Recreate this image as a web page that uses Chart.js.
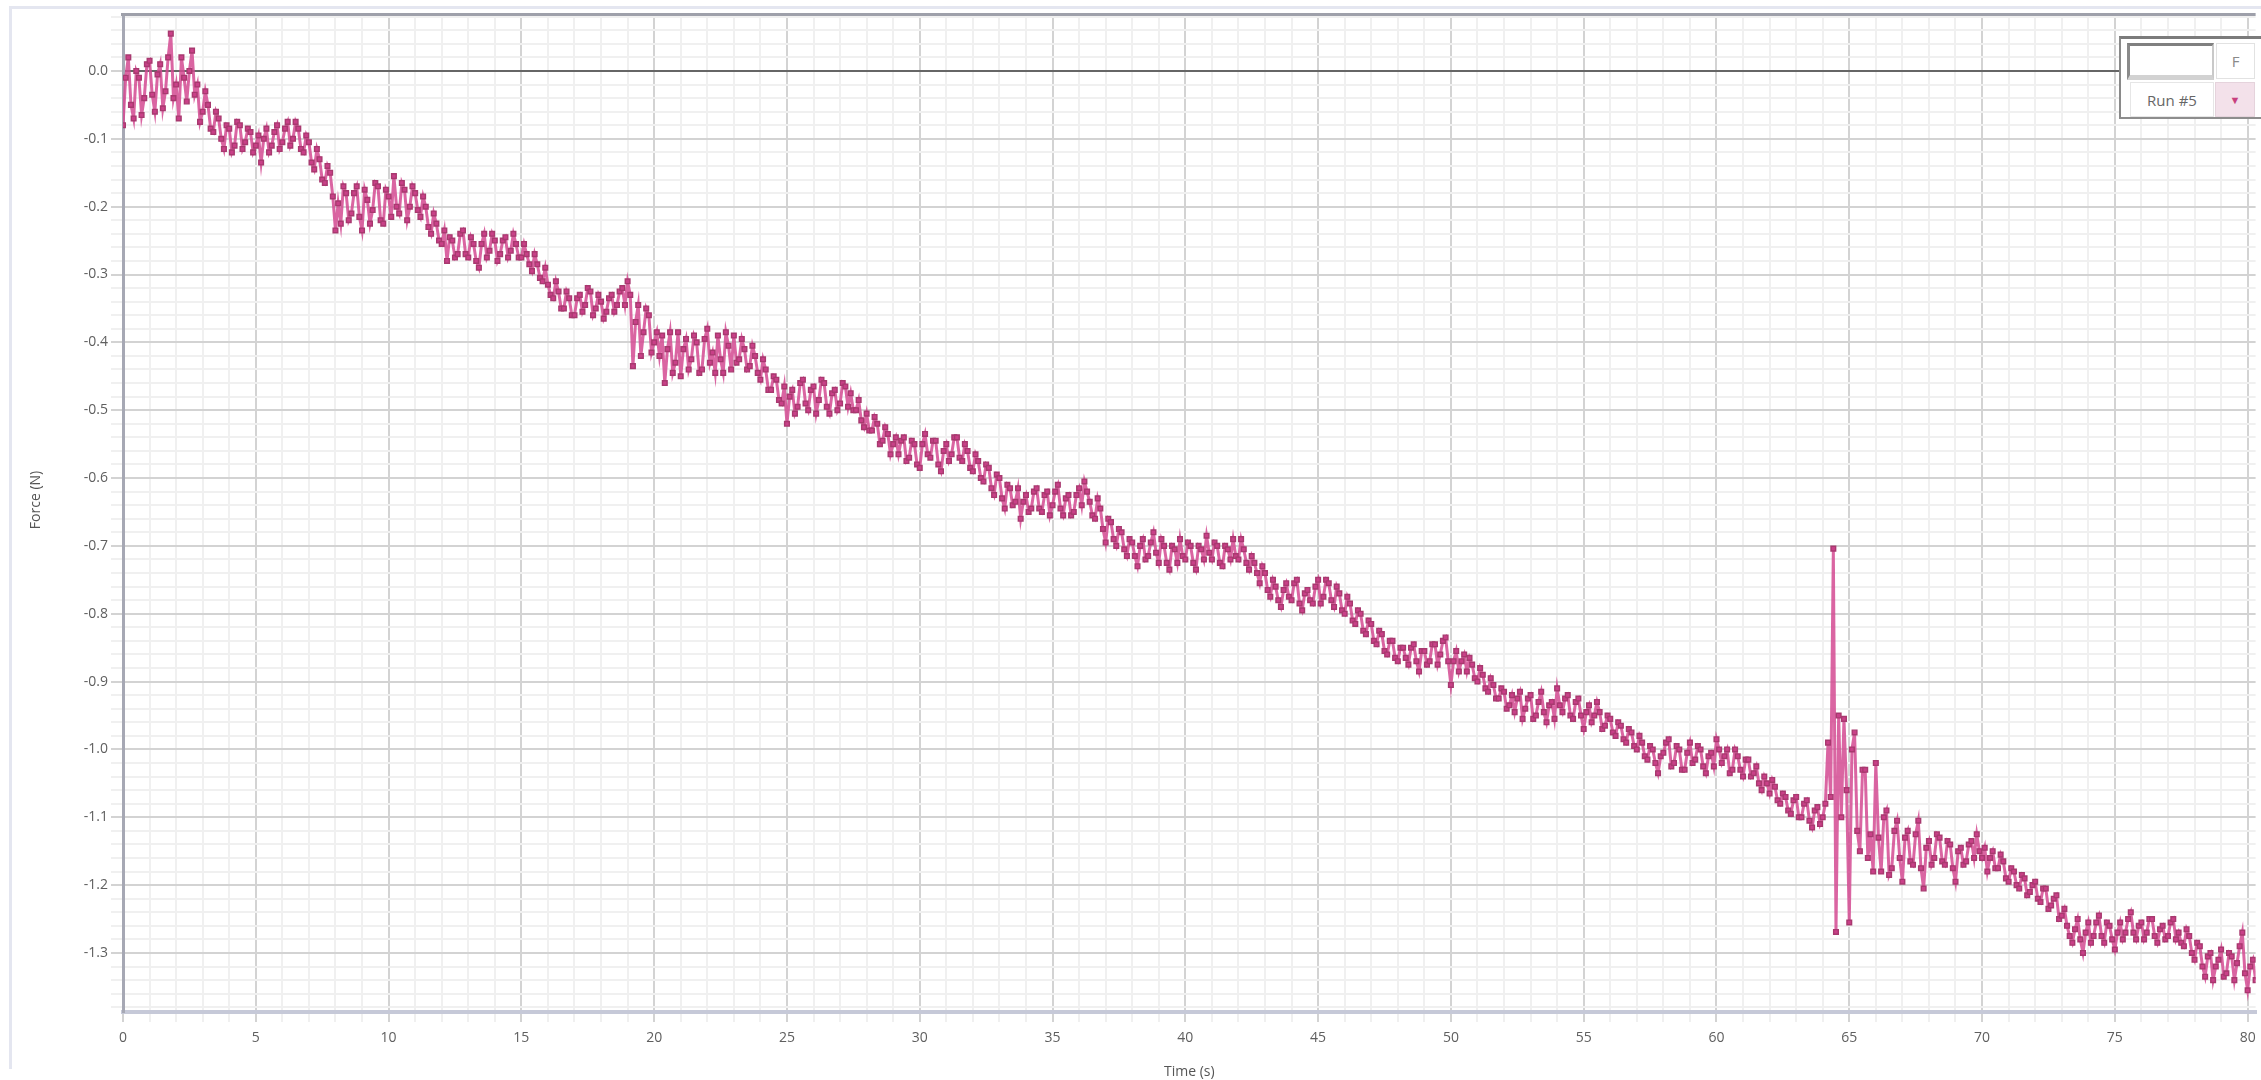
<!DOCTYPE html>
<html><head><meta charset="utf-8">
<script src="https://cdn.jsdelivr.net/npm/chart.js@4.4.1/dist/chart.umd.min.js"></script>
<style>
html,body{margin:0;padding:0;background:#fff;overflow:hidden}
#wrap{position:relative;width:2261px;height:1080px}
#c{display:block}
.lg{position:absolute;box-sizing:border-box;font-family:'Open Sans',sans-serif;font-size:15px;color:#666;display:flex;align-items:center;justify-content:center;background:#fff}
</style></head><body>
<div id="wrap">
<canvas id="c" width="2261" height="1080"></canvas>
<div class="lg" style="left:2119px;top:36px;width:142px;height:83px;border-top:3px solid #7b7b7b;border-left:2px solid #8a8a8a;border-bottom:2px solid #8d8d8d;"></div>
<div class="lg" style="left:2127px;top:43px;width:87px;height:37px;border-top:3px solid #808080;border-left:3px solid #8a8a8a;border-right:2px solid #c9c9c9;border-bottom:5px solid #d2d2d2;"></div>
<div class="lg" style="left:2216px;top:43px;width:39px;height:36px;border:1px solid #e2e2e2;color:#8a8a8a;">F</div>
<div class="lg" style="left:2130px;top:82px;width:84px;height:35px;border:1px solid #e6e6e6;">Run #5</div>
<div class="lg" style="left:2215px;top:82px;width:40px;height:35px;background:#f3e1ea;border:1px solid #e5d3dc;color:#c8407f;font-size:11px;">&#9660;</div>
</div>
<script>
// ---- data ----
const xTickLabels = ['0','5','10','15','20','25','30','35','40','45','50','55','60','65','70','75','80'];
const yTickLabels = ['0.0','-0.1','-0.2','-0.3','-0.4','-0.5','-0.6','-0.7','-0.8','-0.9','-1.0','-1.1','-1.2','-1.3'];
const xTitle = 'Time (s)';
const yTitle = 'Force (N)';
const seriesName = 'Run #5';
const samplePeriod = 0.1; // s between samples
const forceValues = [
-0.08,-0.01,0.02,-0.05,-0.07,0.0,-0.01,-0.065,-0.04,0.01,0.015,-0.035,-0.06,-0.005,0.01,-0.055,-0.03,0.02,0.055,-0.04,-0.02,-0.07,0.02,-0.01,-0.045,0.0,0.03,-0.035,
-0.02,-0.075,-0.06,-0.03,-0.05,-0.085,-0.09,-0.06,-0.07,-0.1,-0.115,-0.08,
-0.085,-0.12,-0.11,-0.075,-0.08,-0.115,-0.105,-0.085,-0.09,-0.12,-0.11,-0.095,-0.135,-0.1,-0.085,-0.12,-0.11,-0.09,-0.08,-0.115,-0.105,-0.085,-0.075,-0.11,-0.10,-0.075,-0.085,-0.115,
-0.12,-0.095,-0.105,-0.135,-0.145,-0.115,-0.13,-0.16,-0.165,-0.14,-0.15,-0.185,-0.235,-0.195,
-0.225,-0.17,-0.18,-0.22,-0.21,-0.18,-0.17,-0.215,-0.235,-0.175,-0.19,-0.225,-0.205,-0.165,-0.17,-0.22,-0.225,-0.175,-0.185,-0.215,-0.155,-0.2,-0.21,-0.165,-0.175,-0.22,-0.2,-0.17,-0.18,-0.205,
-0.215,-0.185,-0.2,-0.23,-0.24,-0.21,-0.225,-0.25,-0.255,-0.235,
-0.28,-0.245,-0.25,-0.275,-0.27,-0.24,-0.235,-0.27,-0.275,-0.245,-0.255,-0.28,-0.29,-0.255,-0.24,-0.275,-0.265,-0.24,-0.25,-0.28,-0.27,-0.25,-0.245,-0.275,-0.265,-0.24,-0.255,-0.275,-0.275,-0.255,
-0.27,-0.285,-0.295,-0.27,-0.285,-0.305,-0.31,-0.29,-0.315,-0.33,-0.335,-0.31,-0.325,-0.35,
-0.35,-0.325,-0.335,-0.36,-0.36,-0.335,-0.33,-0.355,-0.345,-0.32,-0.325,-0.36,-0.35,-0.33,-0.34,-0.365,-0.355,-0.335,-0.33,-0.355,-0.345,-0.325,-0.32,-0.345,-0.31,-0.33,
-0.435,-0.37,-0.345,-0.42,-0.385,-0.35,-0.36,-0.415,-0.40,-0.385,
-0.42,-0.39,-0.46,-0.41,-0.385,-0.445,-0.43,-0.385,-0.45,-0.41,-0.395,-0.44,-0.425,-0.39,-0.40,-0.445,-0.44,-0.395,-0.38,-0.43,-0.415,-0.445,-0.39,-0.425,-0.445,-0.385,-0.405,-0.44,-0.39,-0.43,-0.425,-0.395,-0.41,-0.44,-0.435,-0.405,
-0.42,-0.445,-0.455,-0.425,-0.44,-0.47,-0.47,-0.45,-0.455,-0.485,-0.49,-0.465,
-0.52,-0.48,-0.47,-0.505,-0.495,-0.46,-0.455,-0.49,-0.50,-0.47,-0.465,-0.505,-0.485,-0.455,-0.46,-0.495,-0.505,-0.475,-0.47,-0.50,-0.49,-0.46,-0.465,-0.495,-0.475,-0.5,
-0.50,-0.485,-0.515,-0.525,-0.505,-0.53,-0.53,-0.51,-0.52,-0.55,-0.545,-0.525,-0.535,-0.565,-0.55,-0.54,
-0.565,-0.545,-0.54,-0.575,-0.57,-0.545,-0.55,-0.58,-0.585,-0.55,-0.535,-0.565,-0.57,-0.545,-0.545,-0.58,-0.59,-0.56,-0.55,-0.575,-0.565,-0.54,-0.54,-0.57,-0.575,-0.55,-0.56,-0.585,
-0.59,-0.565,-0.575,-0.6,-0.605,-0.58,-0.585,-0.615,-0.625,-0.595,-0.60,-0.63,-0.645,-0.61,-0.615,-0.64,-0.635,-0.615,
-0.66,-0.635,-0.625,-0.65,-0.645,-0.62,-0.615,-0.645,-0.65,-0.625,-0.62,-0.655,-0.64,-0.62,-0.61,-0.645,-0.655,-0.63,-0.625,-0.655,-0.65,-0.625,-0.615,-0.64,-0.605,-0.62,-0.635,-0.655,
-0.66,-0.63,-0.645,-0.675,-0.695,-0.66,-0.665,-0.69,-0.70,-0.675,-0.68,-0.705,-0.715,-0.69,
-0.695,-0.715,-0.73,-0.7,-0.69,-0.72,-0.715,-0.695,-0.68,-0.71,-0.725,-0.69,-0.70,-0.725,-0.735,-0.7,-0.705,-0.725,-0.69,-0.715,-0.72,-0.695,-0.70,-0.725,-0.735,-0.7,-0.705,-0.72,-0.685,-0.71,-0.72,-0.695,-0.70,-0.725,-0.73,-0.7,-0.705,-0.72,-0.69,-0.715,-0.72,-0.69,-0.705,-0.725,-0.735,-0.715,
-0.725,-0.74,-0.755,-0.73,-0.74,-0.765,-0.775,-0.75,-0.76,-0.78,
-0.79,-0.765,-0.755,-0.775,-0.78,-0.755,-0.75,-0.785,-0.795,-0.77,-0.765,-0.78,-0.785,-0.76,-0.75,-0.785,-0.775,-0.75,-0.755,-0.78,-0.79,-0.76,-0.77,-0.795,
-0.80,-0.775,-0.785,-0.81,-0.815,-0.795,-0.80,-0.825,-0.83,-0.81,-0.815,-0.84,-0.845,-0.825,-0.83,-0.855,-0.86,-0.84,-0.84,-0.865,-0.87,-0.85,
-0.85,-0.865,-0.875,-0.85,-0.845,-0.87,-0.885,-0.855,-0.855,-0.875,-0.87,-0.845,-0.845,-0.875,-0.86,-0.84,-0.835,-0.87,-0.905,-0.87,-0.855,-0.885,-0.87,-0.86,
-0.885,-0.865,-0.875,-0.895,-0.90,-0.88,-0.89,-0.91,-0.915,-0.895,-0.905,-0.925,-0.925,-0.91,-0.915,-0.94,-0.935,-0.92,-0.945,-0.925,
-0.915,-0.955,-0.94,-0.925,-0.92,-0.955,-0.95,-0.93,-0.915,-0.945,-0.96,-0.935,-0.93,-0.955,-0.91,-0.935,-0.945,-0.925,-0.92,-0.95,-0.955,-0.93,-0.925,-0.95,-0.97,-0.945,-0.935,-0.96,-0.95,-0.93,
-0.945,-0.97,-0.965,-0.95,-0.955,-0.975,-0.98,-0.96,-0.965,-0.985,-0.99,-0.97,-0.975,-0.995,-1.0,-0.98,-0.99,-1.01,-1.015,-0.995,
-1.0,-1.02,-1.035,-1.01,-1.005,-0.99,-0.985,-1.025,-1.02,-0.995,-1.0,-1.03,-1.03,-1.005,-0.99,-1.02,-1.015,-0.995,-1.0,-1.025,-1.035,-1.01,-1.005,-1.025,-0.985,-1.0,-1.02,-1.01,-1.0,-1.035,-1.03,-1.0,-1.01,-1.03,-1.04,-1.015,-1.015,-1.04,
-1.035,-1.025,-1.05,-1.06,-1.04,-1.05,-1.065,-1.045,-1.055,-1.075,-1.08,-1.065,-1.07,-1.09,
-1.095,-1.075,-1.07,-1.1,-1.10,-1.08,-1.075,-1.105,-1.115,-1.09,-1.085,-1.11,-1.10,-1.08,
-0.99,-1.07,-0.704,-1.269,-0.95,-1.1,-0.955,-1.06,-1.255,-1.0,-0.975,-1.12,-1.15,-1.03,-1.03,-1.16,-1.125,-1.18,-1.02,-1.13,
-1.18,-1.1,-1.09,-1.185,-1.175,-1.12,-1.105,-1.16,-1.195,-1.13,-1.12,-1.165,-1.17,-1.125,-1.105,-1.175,-1.205,-1.145,-1.135,-1.17,
-1.16,-1.125,-1.13,-1.165,-1.17,-1.135,-1.14,-1.175,-1.195,-1.15,-1.145,-1.17,-1.165,-1.14,-1.135,-1.16,-1.125,-1.15,-1.16,-1.145,
-1.18,-1.16,-1.15,-1.175,-1.175,-1.155,-1.165,-1.19,-1.195,-1.175,-1.18,-1.2,-1.205,-1.185,-1.19,-1.215,-1.21,-1.2,-1.195,-1.22,-1.225,-1.205,-1.205,-1.235,-1.23,-1.22,-1.215,-1.25,-1.245,-1.235,
-1.26,-1.275,-1.285,-1.265,-1.25,-1.28,-1.30,-1.27,-1.255,-1.285,-1.275,-1.255,-1.245,-1.275,-1.285,-1.255,-1.26,-1.28,-1.295,-1.27,-1.255,-1.28,-1.27,-1.25,-1.24,-1.27,-1.28,-1.26,-1.255,-1.28,-1.27,-1.25,-1.25,-1.275,-1.285,-1.265,-1.26,-1.28,-1.275,-1.255,-1.25,-1.28,-1.27,-1.285,
-1.29,-1.265,-1.275,-1.3,-1.31,-1.285,-1.29,-1.32,-1.335,-1.305,-1.30,-1.34,-1.32,-1.31,-1.295,-1.335,-1.33,-1.3,-1.305,-1.34,-1.315,-1.29,-1.27,-1.33,-1.355,-1.32,-1.31,-1.34
];
const sampleTimes = forceValues.map((_, i) => +(i * samplePeriod).toFixed(1));

// ---- axis setup ----
const xMajor = xTickLabels.map(Number);
const yMajor = yTickLabels.map(Number);
const xAll = [];
for (let v = 0; v <= 80; v++) xAll.push(v);
const yAll = [];
for (let k = 4; k >= -69; k--) yAll.push(+(k * 0.02).toFixed(2));
const isMajorX = v => xMajor.some(m => Math.abs(m - v) < 1e-6);
const isMajorY = v => yMajor.some(m => Math.abs(m - v) < 1e-6);

const framePlugin = {
  id: 'frame',
  beforeDraw(chart) {
    const c = chart.ctx;
    c.save();
    c.fillStyle = '#fff';
    c.fillRect(0, 0, chart.width, chart.height);
    c.fillStyle = '#e4e6f0';
    c.fillRect(9, 6, chart.width - 9, 3);
    c.fillRect(9, 6, 3, 1063);
    c.restore();
  },
  afterDraw(chart) {
    const c = chart.ctx, a = chart.chartArea;
    c.save();
    c.fillStyle = '#9ea0aa';
    c.fillRect(a.left - 2, a.top - 2, a.right - a.left + 2, 3);
    c.translate(36, 500);
    c.rotate(-Math.PI / 2);
    c.font = "14px 'Open Sans', sans-serif";
    c.fillStyle = '#555';
    c.textAlign = 'center';
    c.textBaseline = 'middle';
    c.fillText(yTitle, 0, 0);
    c.restore();
  }
};

Chart.defaults.font.family = "'Open Sans', sans-serif";
Chart.defaults.font.size = 14;
Chart.defaults.color = '#595959';

new Chart(document.getElementById('c'), {
  type: 'line',
  data: {
    datasets: [{
      label: seriesName,
      data: sampleTimes.map((t, i) => ({ x: t, y: forceValues[i] })),
      borderColor: 'rgba(212,74,146,0.85)',
      borderWidth: 3,
      pointStyle: 'rect',
      pointRadius: 3.3,
      pointBackgroundColor: '#c94088',
      pointBorderColor: '#a8396f',
      pointBorderWidth: 1.4,
      tension: 0
    }]
  },
  options: {
    responsive: false,
    animation: false,
    devicePixelRatio: 1,
    layout: { padding: { left: 0, top: 15, right: 0, bottom: 0 } },
    plugins: { legend: { display: false }, tooltip: { enabled: false } },
    scales: {
      x: {
        type: 'linear', min: 0, max: 80.3,
        afterBuildTicks: ax => { ax.ticks = xAll.map(v => ({ value: v })); },
        afterFit: ax => { ax.height = 68; ax.paddingLeft = 0; ax.paddingRight = 0; },
        ticks: {
          autoSkip: false, maxRotation: 0, padding: 8, color: '#5f5f5f',
          callback: v => { const i = xMajor.findIndex(m => Math.abs(m - v) < 1e-6); return i >= 0 ? xTickLabels[i] : ''; }
        },
        grid: {
          color: c => isMajorX(c.tick.value) ? '#d3d3d3' : '#f0f0f0',
          tickColor: c => isMajorX(c.tick.value) ? '#d3d3d3' : '#f0f0f0',
          lineWidth: 2, tickLength: 10
        },
        border: { color: '#c6c9d8', width: 4 },
        title: { display: true, text: xTitle, color: '#555', font: { size: 14 }, padding: { top: 0, bottom: 0 } }
      },
      y: {
        type: 'linear', min: -1.387, max: 0.0825,
        afterBuildTicks: ax => { ax.ticks = yAll.map(v => ({ value: v })); },
        afterFit: ax => { ax.width = 123; ax.paddingTop = 0; ax.paddingBottom = 0; },
        ticks: {
          autoSkip: false, padding: 3, color: '#5f5f5f',
          callback: v => { const i = yMajor.findIndex(m => Math.abs(m - v) < 1e-6); return i >= 0 ? yTickLabels[i] : ''; }
        },
        grid: {
          color: c => Math.abs(c.tick.value) < 1e-6 ? '#666666' : (isMajorY(c.tick.value) ? '#d3d3d3' : '#f0f0f0'),
          tickColor: c => isMajorY(c.tick.value) ? '#d3d3d3' : '#f0f0f0',
          lineWidth: 2, tickLength: 12
        },
        border: { color: '#a6a8b4', width: 3 },
        title: { display: false }
      }
    }
  },
  plugins: [framePlugin]
});
</script>
</body></html>
